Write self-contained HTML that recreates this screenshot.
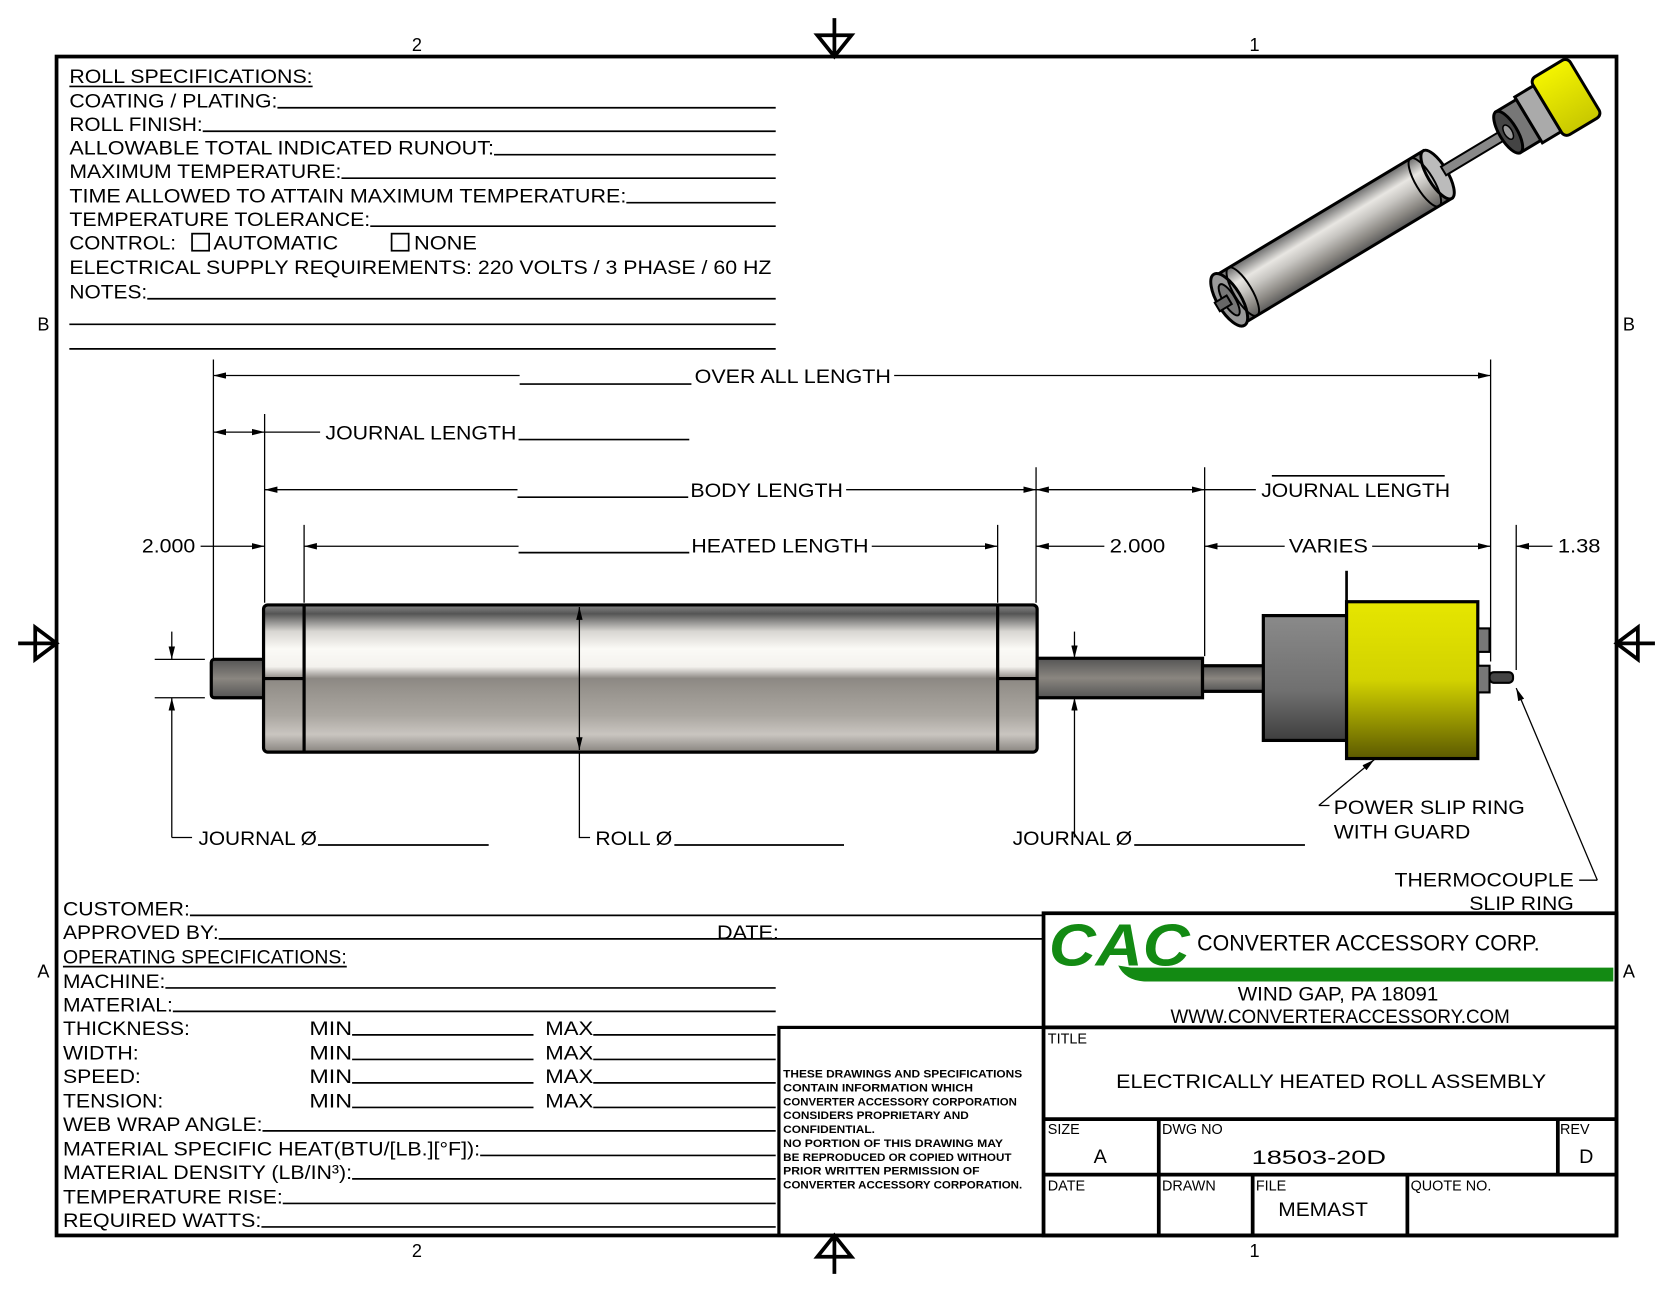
<!DOCTYPE html>
<html><head><meta charset="utf-8"><style>
html,body{margin:0;padding:0;background:#fff;}
svg{display:block;}
text{font-family:"Liberation Sans",Arial,sans-serif;fill:#000;}
</style></head><body>
<svg width="1672" height="1292" viewBox="0 0 1567 1211" preserveAspectRatio="none" xmlns="http://www.w3.org/2000/svg">
<defs>
<linearGradient id="roll" x1="0" y1="0" x2="0" y2="1">
<stop offset="0" stop-color="#8a8a8a"/><stop offset="0.06" stop-color="#555"/><stop offset="0.18" stop-color="#d8d6d2"/><stop offset="0.3" stop-color="#fbfaf6"/><stop offset="0.42" stop-color="#f4f2ee"/><stop offset="0.5" stop-color="#8c8883"/><stop offset="0.6" stop-color="#9a9690"/><stop offset="0.75" stop-color="#aaa6a0"/><stop offset="0.88" stop-color="#c9c5c0"/><stop offset="1" stop-color="#88847f"/>
</linearGradient>
<linearGradient id="shaft" x1="0" y1="0" x2="0" y2="1"><stop offset="0" stop-color="#555"/><stop offset="0.5" stop-color="#8a8680"/><stop offset="1" stop-color="#555"/></linearGradient>
<linearGradient id="hub" x1="0" y1="0" x2="0" y2="1"><stop offset="0" stop-color="#8a8a8a"/><stop offset="0.6" stop-color="#707070"/><stop offset="1" stop-color="#3e3e3e"/></linearGradient>
<linearGradient id="yel" x1="0" y1="0" x2="0" y2="1"><stop offset="0" stop-color="#e6e600"/><stop offset="0.5" stop-color="#d2d200"/><stop offset="1" stop-color="#5c5a00"/></linearGradient>
<linearGradient id="iso" x1="0" y1="0" x2="0" y2="1"><stop offset="0" stop-color="#6a6a6a"/><stop offset="0.3" stop-color="#e8e6e2"/><stop offset="0.5" stop-color="#c8c6c2"/><stop offset="0.8" stop-color="#8a8782"/><stop offset="1" stop-color="#5a5a5a"/></linearGradient>
<linearGradient id="isoy" x1="0" y1="0" x2="0" y2="1"><stop offset="0" stop-color="#f4f400"/><stop offset="1" stop-color="#c8c800"/></linearGradient>
<marker id="a" viewBox="0 0 12 6" refX="12" refY="3" markerWidth="12" markerHeight="6" orient="auto-start-reverse" markerUnits="userSpaceOnUse"><path d="M0,0 L12,3 L0,6 z" fill="#000"/></marker>
</defs>

<rect x="53" y="53" width="1462" height="1105" fill="none" stroke="#000" stroke-width="3.5"/>
<g font-size="17">
<text x="386" y="48">2</text><text x="1171" y="48">1</text>
<text x="386" y="1178">2</text><text x="1171" y="1178">1</text>
<text x="35" y="310">B</text><text x="1521" y="310">B</text>
<text x="35" y="916">A</text><text x="1521" y="916">A</text>
</g>
<g fill="none" stroke="#000" stroke-width="3.5">
<path d="M766,33 L798,33 L782,53 z M782,17 L782,53"/>
<path d="M766,1178 L798,1178 L782,1158 z M782,1194 L782,1158"/>
<path d="M33,588 L33,618 L53,603 z M17,603 L53,603"/>
<path d="M1535,588 L1535,618 L1515,603 z M1551,603 L1515,603"/>
</g>

<g font-size="18.5">
<text x="65" y="78" textLength="228" lengthAdjust="spacingAndGlyphs">ROLL SPECIFICATIONS:</text>
<text x="65" y="101" textLength="195" lengthAdjust="spacingAndGlyphs">COATING / PLATING:</text>
<text x="65" y="123" textLength="125" lengthAdjust="spacingAndGlyphs">ROLL FINISH:</text>
<text x="65" y="145" textLength="398" lengthAdjust="spacingAndGlyphs">ALLOWABLE TOTAL INDICATED RUNOUT:</text>
<text x="65" y="167" textLength="255" lengthAdjust="spacingAndGlyphs">MAXIMUM TEMPERATURE:</text>
<text x="65" y="190" textLength="522" lengthAdjust="spacingAndGlyphs">TIME ALLOWED TO ATTAIN MAXIMUM TEMPERATURE:</text>
<text x="65" y="212" textLength="282" lengthAdjust="spacingAndGlyphs">TEMPERATURE TOLERANCE:</text>
<text x="65" y="234" textLength="100" lengthAdjust="spacingAndGlyphs">CONTROL:</text>
<text x="200" y="234" textLength="117" lengthAdjust="spacingAndGlyphs">AUTOMATIC</text>
<text x="388" y="234" textLength="59" lengthAdjust="spacingAndGlyphs">NONE</text>
<text x="65" y="257" textLength="658" lengthAdjust="spacingAndGlyphs">ELECTRICAL SUPPLY REQUIREMENTS: 220 VOLTS / 3 PHASE / 60 HZ</text>
<text x="65" y="280" textLength="73" lengthAdjust="spacingAndGlyphs">NOTES:</text>
</g>
<g stroke="#000" stroke-width="1.6" fill="none">
<path d="M65,81 H293"/>
<path d="M260,101 H727 M190,123 H727 M463,145 H727 M320,167 H727 M587,190 H727 M347,212 H727 M138,280 H727 M65,304 H727 M65,327 H727"/>
<rect x="180" y="219" width="16" height="16"/><rect x="367" y="219" width="16" height="16"/>
</g>

<g stroke="#000" stroke-width="1.2" fill="none">
<path d="M200,337 V620 M248,388 V565 M285,492 V565 M935,492 V565 M971,438 V565 M1129,438 V615 M1397,337 V620 M1421,492 V628"/>
<path d="M200,352 H487" marker-start="url(#a)"/><path d="M838,352 H1397" marker-end="url(#a)"/>
<path d="M487,360 H648" stroke-width="1.6"/>
<path d="M200,405 H248" marker-start="url(#a)" marker-end="url(#a)"/><path d="M248,405 H300"/>
<path d="M486,412 H646" stroke-width="1.6"/>
<path d="M248,459 H485" marker-start="url(#a)"/><path d="M793,459 H971" marker-end="url(#a)"/>
<path d="M485,466 H645" stroke-width="1.6"/>
<path d="M971,459 H1129" marker-start="url(#a)" marker-end="url(#a)"/><path d="M1129,459 H1177"/>
<path d="M1192,446 H1354" stroke-width="1.6"/>
<path d="M285,512 H486" marker-start="url(#a)"/><path d="M817,512 H935" marker-end="url(#a)"/>
<path d="M486,518 H646" stroke-width="1.6"/>
<path d="M188,512 H248" marker-end="url(#a)"/>
<path d="M1035,512 H971" marker-end="url(#a)"/>
<path d="M1129,512 H1204" marker-start="url(#a)"/><path d="M1286,512 H1397" marker-end="url(#a)"/>
<path d="M1455,512 H1421" marker-end="url(#a)"/>
<path d="M1262,535 V563" stroke-width="2.5"/>
<path d="M145,618 H192 M145,654 H192"/>
<path d="M161,592 V618" marker-end="url(#a)"/>
<path d="M161,785 V654" marker-end="url(#a)"/><path d="M161,785 H180"/>
<path d="M298,792 H458" stroke-width="1.6"/>
<path d="M543,704 V785 H553"/><path d="M632,792 H791" stroke-width="1.6"/>
<path d="M1007,592 V617" marker-end="url(#a)"/>
<path d="M1007,785 V654" marker-end="url(#a)"/>
<path d="M1063,792 H1223" stroke-width="1.6"/>
<path d="M1236,755 L1288,712" marker-end="url(#a)"/><path d="M1236,755 H1246"/>
<path d="M1497,825 L1421,645" marker-end="url(#a)"/><path d="M1497,825 H1480"/>
</g>
<g font-size="18">
<text x="651" y="359" textLength="184" lengthAdjust="spacingAndGlyphs">OVER ALL LENGTH</text>
<text x="305" y="412" textLength="179" lengthAdjust="spacingAndGlyphs">JOURNAL LENGTH</text>
<text x="647" y="466" textLength="143" lengthAdjust="spacingAndGlyphs">BODY LENGTH</text>
<text x="1182" y="466" textLength="177" lengthAdjust="spacingAndGlyphs">JOURNAL LENGTH</text>
<text x="648" y="518" textLength="166" lengthAdjust="spacingAndGlyphs">HEATED LENGTH</text>
<text x="133" y="518" textLength="50" lengthAdjust="spacingAndGlyphs">2.000</text>
<text x="1040" y="518" textLength="52" lengthAdjust="spacingAndGlyphs">2.000</text>
<text x="1208" y="518" textLength="74" lengthAdjust="spacingAndGlyphs">VARIES</text>
<text x="1460" y="518" textLength="40" lengthAdjust="spacingAndGlyphs">1.38</text>
<text x="186" y="792" textLength="111" lengthAdjust="spacingAndGlyphs">JOURNAL Ø</text>
<text x="558" y="792" textLength="72" lengthAdjust="spacingAndGlyphs">ROLL Ø</text>
<text x="949" y="792" textLength="112" lengthAdjust="spacingAndGlyphs">JOURNAL Ø</text>
<text x="1250" y="763" textLength="179" lengthAdjust="spacingAndGlyphs">POWER SLIP RING</text>
<text x="1250" y="786" textLength="128" lengthAdjust="spacingAndGlyphs">WITH GUARD</text>
<text x="1307" y="831" textLength="168" lengthAdjust="spacingAndGlyphs">THERMOCOUPLE</text>
<text x="1377" y="853" textLength="98" lengthAdjust="spacingAndGlyphs">SLIP RING</text>
</g>

<g stroke="#000" stroke-width="3">
<rect x="198" y="618" width="50" height="36" rx="3" fill="url(#shaft)"/>
<rect x="247" y="567" width="725" height="138" rx="4" fill="url(#roll)"/>
<path d="M285,567 V705 M935,567 V705" fill="none"/>
<path d="M247,636 H285 M935,636 H972" fill="none"/>
<rect x="972" y="617" width="155" height="37" fill="url(#shaft)"/>
<rect x="1127" y="624" width="58" height="24" fill="url(#shaft)"/>
<rect x="1184" y="577" width="78" height="117" fill="url(#hub)"/>
<rect x="1262" y="564" width="123" height="147" fill="url(#yel)"/>
<rect x="1385" y="589" width="11" height="22" fill="#777" stroke-width="2"/>
<rect x="1385" y="624" width="11" height="25" fill="#777" stroke-width="2"/>
<rect x="1396" y="630" width="22" height="10" rx="4" fill="#444" stroke-width="2"/>
</g>
<path d="M543,569 V703" stroke="#000" stroke-width="1.2" fill="none" marker-start="url(#a)" marker-end="url(#a)"/>

<g transform="translate(1152,281) rotate(-31) scale(0.93)" stroke="#000" stroke-width="3">
<rect x="0" y="-28" width="245" height="56" fill="url(#iso)"/>
<ellipse cx="245" cy="0" rx="10" ry="28" fill="#bbb"/>
<ellipse cx="230" cy="0" rx="9" ry="28" fill="none" stroke-width="2"/>
<rect x="252" y="-5" width="76" height="10" fill="#888" stroke-width="2"/>
<rect x="328" y="-24" width="24" height="48" fill="#777"/>
<ellipse cx="328" cy="0" rx="9" ry="24" fill="#444"/>
<ellipse cx="328" cy="0" rx="4" ry="8" fill="#999" stroke-width="1.5"/>
<rect x="352" y="-27" width="22" height="54" fill="#aaa"/>
<rect x="374" y="-34" width="44" height="68" rx="6" fill="url(#isoy)"/>
<ellipse cx="0" cy="0" rx="12" ry="30" fill="#999"/>
<ellipse cx="0" cy="0" rx="6" ry="18" fill="#777" stroke-width="2"/>
<rect x="-14" y="-5" width="14" height="10" fill="#666" stroke-width="2"/>
<ellipse cx="16" cy="0" rx="9" ry="28" fill="none" stroke-width="2"/>
</g>

<g font-size="18.5">
<text x="59" y="858" textLength="119" lengthAdjust="spacingAndGlyphs">CUSTOMER:</text>
<text x="59" y="880" textLength="146" lengthAdjust="spacingAndGlyphs">APPROVED BY:</text>
<text x="672" y="880" textLength="58" lengthAdjust="spacingAndGlyphs">DATE:</text>
<text x="59" y="903" textLength="266" lengthAdjust="spacingAndGlyphs">OPERATING SPECIFICATIONS:</text>
<text x="59" y="926" textLength="96" lengthAdjust="spacingAndGlyphs">MACHINE:</text>
<text x="59" y="948" textLength="103" lengthAdjust="spacingAndGlyphs">MATERIAL:</text>
<text x="59" y="970" textLength="119" lengthAdjust="spacingAndGlyphs">THICKNESS:</text>
<text x="59" y="993" textLength="71" lengthAdjust="spacingAndGlyphs">WIDTH:</text>
<text x="59" y="1015" textLength="73" lengthAdjust="spacingAndGlyphs">SPEED:</text>
<text x="59" y="1038" textLength="94" lengthAdjust="spacingAndGlyphs">TENSION:</text>
<text x="290" y="970" textLength="40" lengthAdjust="spacingAndGlyphs">MIN</text><text x="511" y="970" textLength="45" lengthAdjust="spacingAndGlyphs">MAX</text>
<text x="290" y="993" textLength="40" lengthAdjust="spacingAndGlyphs">MIN</text><text x="511" y="993" textLength="45" lengthAdjust="spacingAndGlyphs">MAX</text>
<text x="290" y="1015" textLength="40" lengthAdjust="spacingAndGlyphs">MIN</text><text x="511" y="1015" textLength="45" lengthAdjust="spacingAndGlyphs">MAX</text>
<text x="290" y="1038" textLength="40" lengthAdjust="spacingAndGlyphs">MIN</text><text x="511" y="1038" textLength="45" lengthAdjust="spacingAndGlyphs">MAX</text>
<text x="59" y="1060" textLength="187" lengthAdjust="spacingAndGlyphs">WEB WRAP ANGLE:</text>
<text x="59" y="1083" textLength="391" lengthAdjust="spacingAndGlyphs">MATERIAL SPECIFIC HEAT(BTU/[LB.][°F]):</text>
<text x="59" y="1105" textLength="271" lengthAdjust="spacingAndGlyphs">MATERIAL DENSITY (LB/IN³):</text>
<text x="59" y="1128" textLength="206" lengthAdjust="spacingAndGlyphs">TEMPERATURE RISE:</text>
<text x="59" y="1150" textLength="186" lengthAdjust="spacingAndGlyphs">REQUIRED WATTS:</text>
</g>
<g stroke="#000" stroke-width="1.6" fill="none">
<path d="M59,906 H325"/>
<path d="M178,858 H977 M205,880 H977 M155,926 H727 M162,948 H727"/>
<path d="M330,970 H500 M556,970 H727 M330,993 H500 M556,993 H727 M330,1015 H500 M556,1015 H727 M330,1038 H500 M556,1038 H727"/>
<path d="M246,1060 H727 M450,1083 H727 M330,1105 H727 M265,1128 H727 M245,1150 H727"/>
</g>
<rect x="730" y="963" width="248" height="195" fill="none" stroke="#000" stroke-width="3"/>
<g font-size="10" font-weight="bold">
<text x="734" y="1010" textLength="224" lengthAdjust="spacingAndGlyphs">THESE DRAWINGS AND SPECIFICATIONS</text>
<text x="734" y="1023" textLength="178" lengthAdjust="spacingAndGlyphs">CONTAIN INFORMATION WHICH</text>
<text x="734" y="1036" textLength="219" lengthAdjust="spacingAndGlyphs">CONVERTER ACCESSORY CORPORATION</text>
<text x="734" y="1049" textLength="174" lengthAdjust="spacingAndGlyphs">CONSIDERS PROPRIETARY AND</text>
<text x="734" y="1062" textLength="86" lengthAdjust="spacingAndGlyphs">CONFIDENTIAL.</text>
<text x="734" y="1075" textLength="206" lengthAdjust="spacingAndGlyphs">NO PORTION OF THIS DRAWING MAY</text>
<text x="734" y="1088" textLength="214" lengthAdjust="spacingAndGlyphs">BE REPRODUCED OR COPIED WITHOUT</text>
<text x="734" y="1101" textLength="184" lengthAdjust="spacingAndGlyphs">PRIOR WRITTEN PERMISSION OF</text>
<text x="734" y="1114" textLength="224" lengthAdjust="spacingAndGlyphs">CONVERTER ACCESSORY CORPORATION.</text>
</g>

<g stroke="#000" stroke-width="3.5" fill="none">
<rect x="978" y="856" width="537" height="302"/>
<path d="M978,963 H1515 M978,1049 H1515 M978,1101 H1515"/>
<path d="M1086,1049 V1158 M1460,1049 V1101 M1174,1101 V1158 M1319,1101 V1158"/>
</g>
<path d="M1060,907 H1512 V920 H1075 Q1055,920 1048,905 z" fill="#138a13"/>
<text x="983" y="905" font-size="56" font-weight="bold" font-style="italic" style="fill:#138a13" textLength="132" lengthAdjust="spacingAndGlyphs">CAC</text>
<text x="1122" y="891" font-size="21" textLength="321" lengthAdjust="spacingAndGlyphs">CONVERTER ACCESSORY CORP.</text>
<text x="1160" y="938" font-size="18" textLength="188" lengthAdjust="spacingAndGlyphs">WIND GAP, PA 18091</text>
<text x="1097" y="959" font-size="18" textLength="318" lengthAdjust="spacingAndGlyphs">WWW.CONVERTERACCESSORY.COM</text>
<g font-size="13.5">
<text x="982" y="978">TITLE</text>
<text x="982" y="1063">SIZE</text>
<text x="1089" y="1063">DWG NO</text>
<text x="1462" y="1063">REV</text>
<text x="982" y="1116">DATE</text>
<text x="1089" y="1116">DRAWN</text>
<text x="1177" y="1116">FILE</text>
<text x="1322" y="1116">QUOTE NO.</text>
</g>
<text x="1046" y="1020" font-size="18.5" textLength="403" lengthAdjust="spacingAndGlyphs">ELECTRICALLY HEATED ROLL ASSEMBLY</text>
<text x="1025" y="1090" font-size="18.5">A</text>
<text x="1173" y="1091" font-size="18.5" textLength="126" lengthAdjust="spacingAndGlyphs">18503-20D</text>
<text x="1480" y="1090" font-size="18.5">D</text>
<text x="1198" y="1140" font-size="18.5" textLength="84" lengthAdjust="spacingAndGlyphs">MEMAST</text>
</svg>
</body></html>
